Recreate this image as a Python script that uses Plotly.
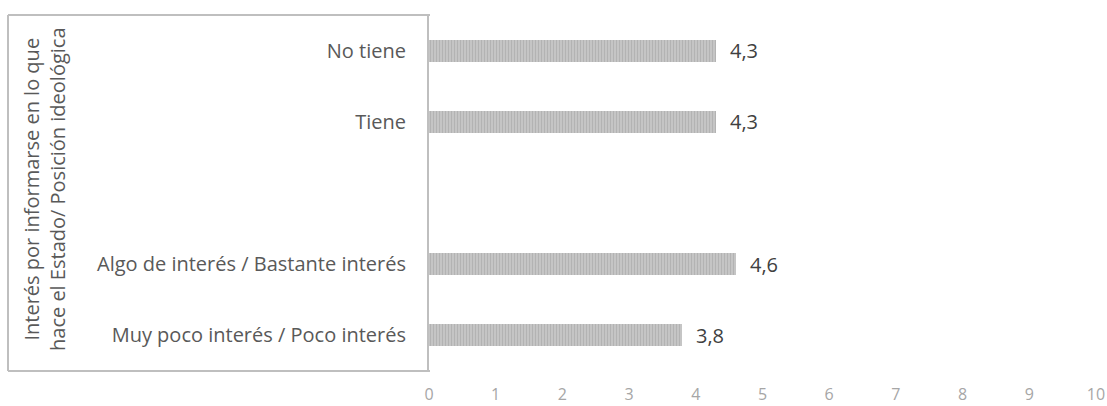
import plotly.graph_objects as go

# Mean scores by group (bottom to top); the blank row separates the two blocks
categories = ["Muy poco interés / Poco interés", "Algo de interés / Bastante interés", " ", "Tiene", "No tiene"]
values = [3.8, 4.6, None, 4.3, 4.3]
value_labels = ["3,8", "4,6", "", "4,3", "4,3"]
x_ticks = list(range(0, 11))
group_title = "Interés por informarse en lo que<br>hace el Estado/ Posición ideológica"

FONT = "Open Sans"
W, H = 1107, 406
L, R, T, B = 429, 11, 15, 35
plot_w = W - L - R
plot_h = H - T - B


def px_to_paper_x(px):
    return (px - L) / plot_w


def px_to_paper_y(py):
    return 1 - (py - T) / plot_h


fig = go.Figure()
fig.add_trace(go.Bar(
    y=categories,
    x=values,
    orientation="h",
    width=0.31,
    marker=dict(
        color="#c0c0c0",
        line=dict(width=0),
        pattern=dict(shape="|", fgcolor="#9e9e9e", bgcolor="#c8c8c8", size=3, solidity=0.45),
    ),
    hoverinfo="skip",
))

# value labels to the right of each bar
for cat, v, lab in zip(categories, values, value_labels):
    if v is None:
        continue
    fig.add_annotation(
        x=v, y=cat, text=lab, showarrow=False, xanchor="left", xshift=12,
        font=dict(family=FONT, size=20, color="#404040"),
    )

# table frame around the category labels
line_col = "#bfbfbf"
x0, x1 = px_to_paper_x(8), px_to_paper_x(430)
y0, y1 = px_to_paper_y(371), px_to_paper_y(15)
fig.add_shape(type="line", xref="paper", yref="paper", x0=x0, x1=x1, y0=y1, y1=y1,
              line=dict(color=line_col, width=2))
fig.add_shape(type="line", xref="paper", yref="paper", x0=x0, x1=x1, y0=y0, y1=y0,
              line=dict(color=line_col, width=2))
fig.add_shape(type="line", xref="paper", yref="paper", x0=x0, x1=x0, y0=y0, y1=y1,
              line=dict(color=line_col, width=2))

# rotated group title
fig.add_annotation(
    xref="paper", yref="paper", x=px_to_paper_x(44), y=px_to_paper_y(189),
    text=group_title, textangle=-90, showarrow=False, xanchor="center", yanchor="middle",
    font=dict(family=FONT, size=20, color="#595959"),
)

fig.update_layout(
    width=W, height=H,
    margin=dict(l=L, r=R, t=T, b=B, autoexpand=False),
    plot_bgcolor="white", paper_bgcolor="white",
    showlegend=False,
    bargap=0,
    xaxis=dict(
        range=[0, 10], tickvals=x_ticks, ticktext=[str(t) for t in x_ticks],
        showgrid=False, zeroline=False, showline=False, automargin=False,
        ticks="outside", ticklen=9, tickcolor="rgba(0,0,0,0)",
        tickfont=dict(family=FONT, size=16, color="#a6a6a6"),
    ),
    yaxis=dict(
        type="category", categoryorder="array", categoryarray=categories,
        range=[-0.5, 4.5], automargin=False,
        showgrid=False, zeroline=False,
        showline=True, linecolor=line_col, linewidth=2,
        ticks="outside", ticklen=17, tickcolor="rgba(0,0,0,0)",
        tickfont=dict(family=FONT, size=20, color="#595959"),
    ),
)

fig.write_html("out.html")
